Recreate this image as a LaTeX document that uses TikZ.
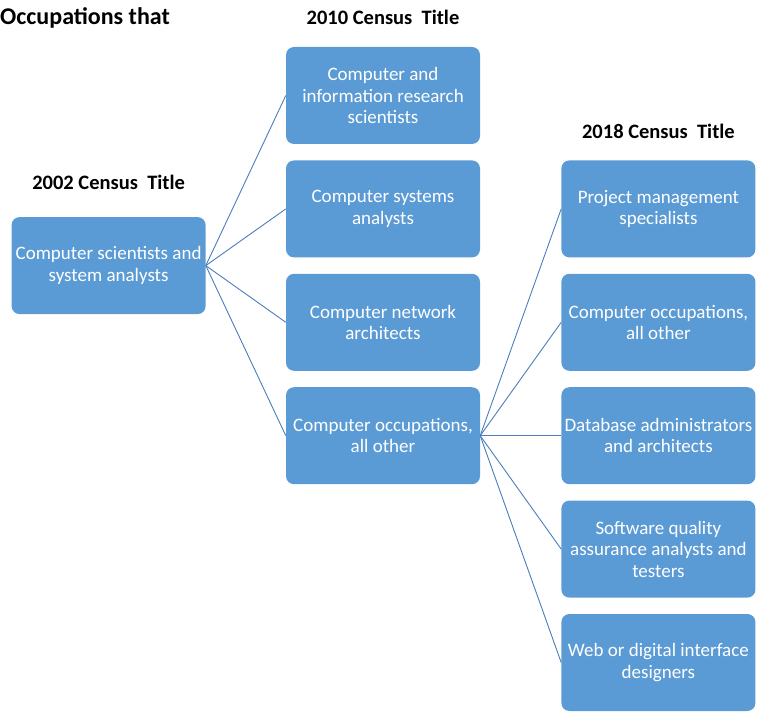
\documentclass[tikz,border=0pt]{standalone}
\usepackage{fontspec}
\setmainfont{Carlito}
\usetikzlibrary{positioning, calc}

\definecolor{boxblue}{HTML}{5B9BD5}
\definecolor{linkblue}{HTML}{4A7EBB}

\begin{document}
\begin{tikzpicture}[
  x=1pt, y=1pt,
  occbox/.style = {fill=boxblue, rounded corners=8pt, minimum width=194pt, minimum height=97pt,
                   text=white, align=center, font=\fontsize{19}{21.5}\selectfont, inner sep=2pt},
  heading/.style = {font=\fontsize{20.5}{24}\selectfont\bfseries, inner sep=0pt},
  link/.style = {linkblue, line width=0.9pt},
  node distance=16pt and 81pt
]
  \useasboundingbox (0,0) rectangle (759,-711);

  % 2010 column
  \node[occbox] (infosci) at (383,-95.5) {Computer and\\information research\\scientists};
  \node[occbox, below=of infosci] (sysanal) {Computer systems\\analysts};
  \node[occbox, below=of sysanal] (netarch) {Computer network\\architects};
  \node[occbox, below=of netarch] (allother) {Computer occupations,\\all other};

  % 2002 box left of the middle of the 2010 column
  \coordinate (midwest) at ($(sysanal.west)!0.5!(netarch.west)$);
  \node[occbox, left=80pt of midwest] (compsci) {Computer scientists and\\system analysts};

  % 2018 column
  \node[occbox, right=of sysanal] (projmgmt) {Project management\\specialists};
  \node[occbox, below=of projmgmt] (allother18) {Computer occupations,\\all other};
  \node[occbox, below=of allother18] (dbadmin) {Database administrators\\and architects};
  \node[occbox, below=of dbadmin] (swqa) {Software quality\\assurance analysts and\\testers};
  \node[occbox, below=of swqa] (webdes) {Web or digital interface\\designers};

  % headings
  \node[heading, anchor=west] (occthat) at (0,-18) {\fontsize{24}{28}\selectfont Occupations that};
  \node[heading, above=22pt of infosci] (head2010) {2010 Census\ \ Title};
  \node[heading, above=27pt of compsci] (head2002) {2002 Census\ \ Title};
  \node[heading, above=21pt of projmgmt] (head2018) {2018 Census\ \ Title};

  % links 2002 -> 2010
  \foreach \t in {infosci, sysanal, netarch, allother}
    \draw[link] (compsci.east) -- (\t.west);

  % links 2010 -> 2018
  \foreach \t in {projmgmt, allother18, dbadmin, swqa, webdes}
    \draw[link] (allother.east) -- (\t.west);

\end{tikzpicture}
\end{document}
